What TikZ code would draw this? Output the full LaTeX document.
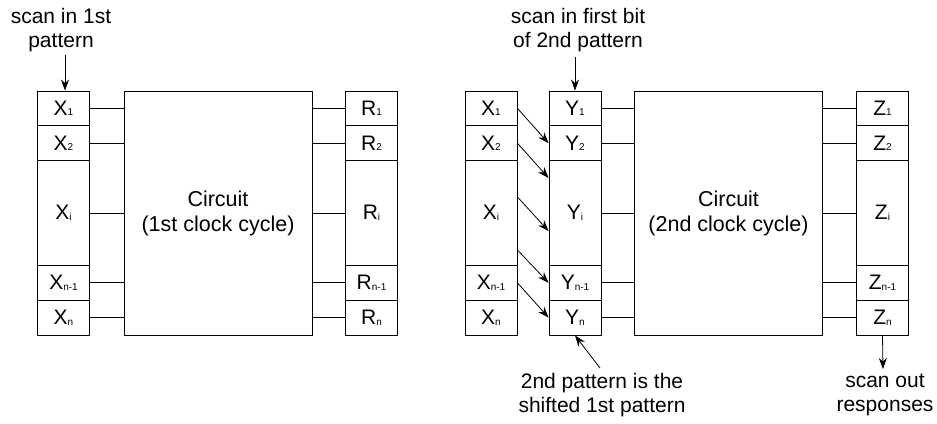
\documentclass[tikz,border=0pt]{standalone}
\usepackage{fontspec}
\setmainfont{Liberation Sans}
\usetikzlibrary{arrows.meta}
\newcommand{\lowsub}[1]{\raisebox{-0.5pt}{\fontsize{10}{10}\selectfont #1}}
\tikzset{
  cell/.style={draw, line width=0.9pt, minimum width=52pt, inner sep=0pt, font=\fontsize{21}{21}\selectfont},
  small/.style={cell, minimum height=34.8pt},
  big/.style={cell, minimum height=104.8pt},
  circ/.style={draw, line width=0.9pt, minimum width=188pt, minimum height=244pt, inner sep=0pt, align=center, font=\fontsize{21.5}{25}\selectfont},
  wire/.style={line width=0.8pt},
  arr/.style={line width=0.8pt, -{Stealth[length=11pt,width=8pt]}},
  lab/.style={align=center, font=\fontsize{21}{24}\selectfont, inner sep=0pt}
}
\begin{document}
\begin{tikzpicture}[x=1pt,y=-1pt]
\useasboundingbox (0,0) rectangle (937,423);
% ---------- left ----------
\node[small] (x1) at (63.5,108.4) {X\lowsub{1}};
\node[small] (x2) at (63.5,143.2) {X\lowsub{2}};
\node[big]   (xi) at (63.5,213.0) {X\lowsub{i}};
\node[small] (xm) at (63.5,282.8) {X\lowsub{n-1}};
\node[small] (xn) at (63.5,317.6) {X\lowsub{n}};
\node[circ] (c1) at (218,213) {Circuit\\(1st clock cycle)};
\node[small] (r1) at (371.5,108.4) {R\lowsub{1}};
\node[small] (r2) at (371.5,143.2) {R\lowsub{2}};
\node[big]   (ri) at (371.5,213.0) {R\lowsub{i}};
\node[small] (rm) at (371.5,282.8) {R\lowsub{n-1}};
\node[small] (rn) at (371.5,317.6) {R\lowsub{n}};
\foreach \a/\b in {x1/r1,x2/r2,xi/ri,xm/rm,xn/rn}{
  \draw[wire] (\a.east) -- (\a.east -| c1.west);
  \draw[wire] (\b.west -| c1.east) -- (\b.west);
}
\node[lab] (t1) at (61,30) {scan in 1st\\pattern};
\coordinate (t1a) at (65,55);
\draw[arr] (t1a) -- (x1.north -| t1a);
% ---------- right ----------
\node[small] (u1) at (491,108.4) {X\lowsub{1}};
\node[small] (u2) at (491,143.2) {X\lowsub{2}};
\node[big]   (ui) at (491,213.0) {X\lowsub{i}};
\node[small] (um) at (491,282.8) {X\lowsub{n-1}};
\node[small] (un) at (491,317.6) {X\lowsub{n}};
\node[small] (y1) at (575,108.4) {Y\lowsub{1}};
\node[small] (y2) at (575,143.2) {Y\lowsub{2}};
\node[big]   (yi) at (575,213.0) {Y\lowsub{i}};
\node[small] (ym) at (575,282.8) {Y\lowsub{n-1}};
\node[small] (yn) at (575,317.6) {Y\lowsub{n}};
\node[circ] (c2) at (728.5,213) {Circuit\\(2nd clock cycle)};
\node[small] (z1) at (882.5,108.4) {Z\lowsub{1}};
\node[small] (z2) at (882.5,143.2) {Z\lowsub{2}};
\node[big]   (zi) at (882.5,213.0) {Z\lowsub{i}};
\node[small] (zm) at (882.5,282.8) {Z\lowsub{n-1}};
\node[small] (zn) at (882.5,317.6) {Z\lowsub{n}};
\foreach \a/\b in {y1/z1,y2/z2,yi/zi,ym/zm,yn/zn}{
  \draw[wire] (\a.east) -- (\a.east -| c2.west);
  \draw[wire] (\b.west -| c2.east) -- (\b.west);
}
% shift arrows
\draw[arr] (u1.east) -- (y2.west);
\draw[arr] (u2.east) -- ([yshift=35pt]yi.west);
\draw[arr] ([yshift=16pt]ui.east) -- ([yshift=-18pt]yi.west);
\draw[arr] ([yshift=-37pt]ui.east) -- (ym.west);
\draw[arr] (um.east) -- (yn.west);
\node[lab] (t2) at (578,30) {scan in first bit\\of 2nd pattern};
\coordinate (t2a) at (575,57);
\draw[arr] (t2a) -- (y1.north);
\node[lab] (t3) at (602,395) {2nd pattern is the\\shifted 1st pattern};
\coordinate (t3a) at (600,368);
\draw[arr] (t3a) -- (yn.south);
\node[lab] (t4) at (885,395) {scan out\\responses};
\coordinate (t4a) at (883,369);
\draw[arr] (zn.south) -- (t4a);
\end{tikzpicture}
\end{document}
